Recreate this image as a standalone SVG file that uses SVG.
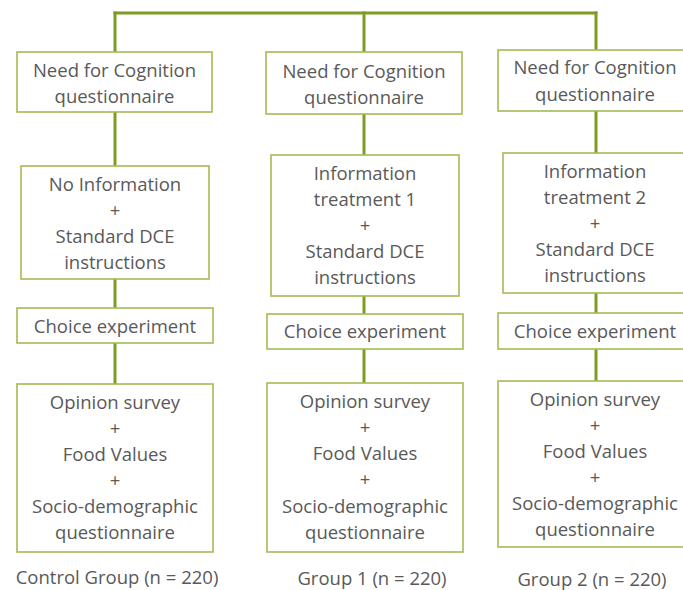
<svg xmlns="http://www.w3.org/2000/svg" width="683" height="590" viewBox="0 0 683 590">
<style>
.box{fill:#ffffff;stroke:#a3bb55;stroke-width:1.6}
.ln{stroke:#7e9c22;stroke-width:3;fill:none;stroke-linecap:square}
text{font-family:"Open Sans","Liberation Sans",sans-serif;font-size:18.5px;fill:#595959;text-anchor:middle}
</style>
<rect width="683" height="590" fill="#ffffff"/>
<g id="connectors">
<path class="ln" d="M115,13 H596"/>
<path class="ln" d="M115,13 V52 M115,112 V166 M115,279 V308 M115,343 V384"/>
<path class="ln" d="M364,13 V52 M364,114 V155 M364,296 V314 M364,349 V383"/>
<path class="ln" d="M596,13 V50 M596,111 V153 M596,293 V313 M596,349 V381"/>
</g>
<g id="nfc1"><rect class="box" x="17" y="52" width="195" height="60"/><text x="114.5" y="77">Need for Cognition</text><text x="114.5" y="103">questionnaire</text></g>
<g id="nfc2"><rect class="box" x="266" y="52" width="196" height="62"/><text x="364" y="78">Need for Cognition</text><text x="364" y="104">questionnaire</text></g>
<g id="nfc3"><rect class="box" x="498" y="50" width="195" height="61"/><text x="595" y="74">Need for Cognition</text><text x="595" y="101">questionnaire</text></g>
<g id="info0"><rect class="box" x="21" y="166" width="188" height="113"/><text x="115" y="191">No Information</text><text x="115" y="217">+</text><text x="115" y="243">Standard DCE</text><text x="115" y="269">instructions</text></g>
<g id="info1"><rect class="box" x="271" y="155" width="188" height="141"/><text x="365" y="180">Information</text><text x="365" y="206">treatment 1</text><text x="365" y="232">+</text><text x="365" y="258">Standard DCE</text><text x="365" y="284">instructions</text></g>
<g id="info2"><rect class="box" x="503" y="153" width="190" height="140"/><text x="595" y="178">Information</text><text x="595" y="204">treatment 2</text><text x="595" y="230">+</text><text x="595" y="256">Standard DCE</text><text x="595" y="282">instructions</text></g>
<g id="choice1"><rect class="box" x="17" y="308" width="196" height="35"/><text x="115" y="333">Choice experiment</text></g>
<g id="choice2"><rect class="box" x="267" y="314" width="196" height="35"/><text x="365" y="338">Choice experiment</text></g>
<g id="choice3"><rect class="box" x="498" y="313" width="195" height="36"/><text x="595" y="338">Choice experiment</text></g>
<g id="survey1"><rect class="box" x="17" y="384" width="196" height="168"/><text x="115" y="409">Opinion  survey</text><text x="115" y="435">+</text><text x="115" y="461">Food Values</text><text x="115" y="487">+</text><text x="115" y="513">Socio-demographic</text><text x="115" y="539">questionnaire</text></g>
<g id="survey2"><rect class="box" x="267" y="383" width="196" height="169"/><text x="365" y="408">Opinion  survey</text><text x="365" y="434">+</text><text x="365" y="460">Food Values</text><text x="365" y="486">+</text><text x="365" y="513">Socio-demographic</text><text x="365" y="539">questionnaire</text></g>
<g id="survey3"><rect class="box" x="498" y="381" width="195" height="166"/><text x="595" y="406">Opinion  survey</text><text x="595" y="432">+</text><text x="595" y="458">Food Values</text><text x="595" y="484">+</text><text x="595" y="510">Socio-demographic</text><text x="595" y="536">questionnaire</text></g>
<g id="labels"><text x="117" y="584">Control Group (n = 220)</text><text x="372" y="585">Group 1 (n = 220)</text><text x="592" y="586">Group 2 (n = 220)</text></g>
</svg>
